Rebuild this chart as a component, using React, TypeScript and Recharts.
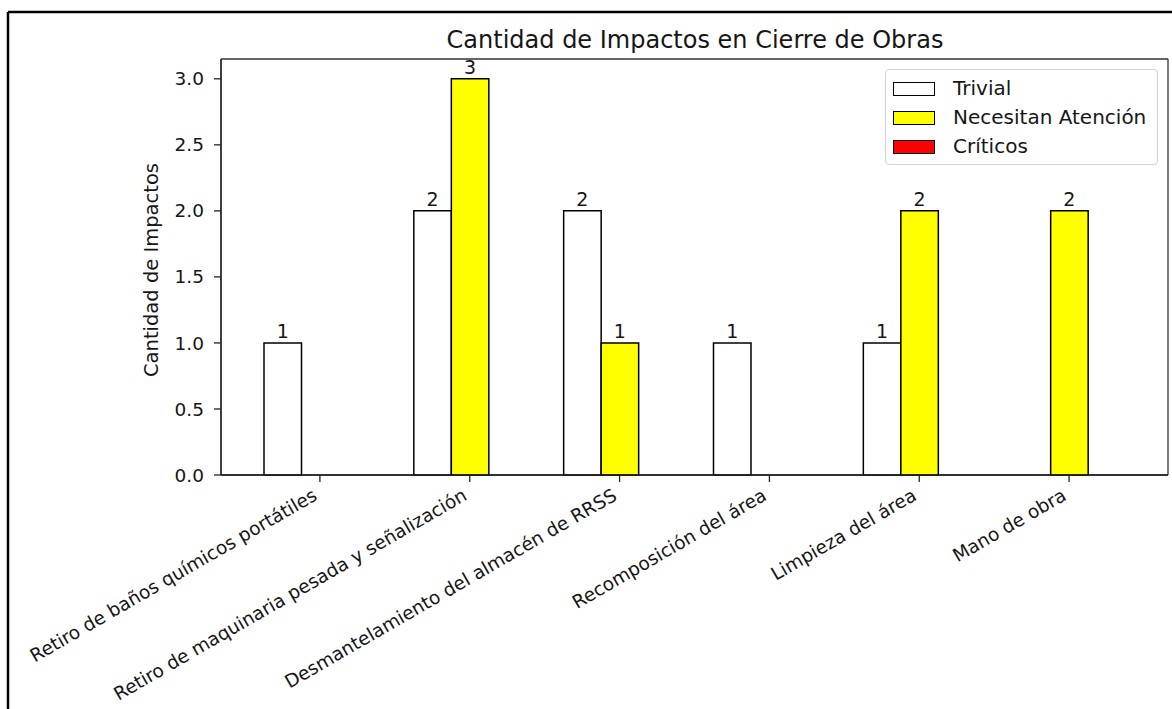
import React from 'react';
import {
  BarChart,
  Bar,
  XAxis,
  YAxis,
  Legend,
  LabelList,
  Label,
  CartesianGrid,
} from 'recharts';

const categories = [
  'Retiro de baños químicos portátiles',
  'Retiro de maquinaria pesada y señalización',
  'Desmantelamiento del almacén de RRSS',
  'Recomposición del área',
  'Limpieza del área',
  'Mano de obra',
];
const trivial = [1, 2, 2, 1, 1, 0];
const necesitan = [0, 3, 1, 0, 2, 2];
const criticos = [0, 0, 0, 0, 0, 0];
const yTicks = [0, 0.5, 1, 1.5, 2, 2.5, 3];

const series = [
  { key: 'trivial', name: 'Trivial', fill: '#ffffff' },
  { key: 'necesitan', name: 'Necesitan Atención', fill: '#ffff00' },
  { key: 'criticos', name: 'Críticos', fill: '#ff0000' },
];

const data = categories.map((name, i) => ({
  name,
  trivial: trivial[i],
  necesitan: necesitan[i],
  criticos: criticos[i],
}));

const FONT = '"DejaVu Sans", sans-serif';
const INK = '#161616';

const XTick = (props: any) => {
  const { x, y, payload } = props;
  const ax = x - 1.5;
  const ay = y + 15;
  return (
    <text
      x={ax}
      y={ay}
      textAnchor="end"
      transform={`rotate(-30, ${ax}, ${ay})`}
      fontSize={18.5}
      fontFamily={FONT}
      fill={INK}
    >
      {payload.value}
    </text>
  );
};

const YLabel = (props: any) => {
  const { viewBox } = props;
  const cx = 158;
  const cy = viewBox.y + viewBox.height / 2 + 3;
  return (
    <text
      x={cx}
      y={cy}
      textAnchor="middle"
      transform={`rotate(-90, ${cx}, ${cy})`}
      fontSize={19.5}
      fontFamily={FONT}
      fill={INK}
    >
      Cantidad de Impactos
    </text>
  );
};

const LegendBox = () => (
  <div
    style={{
      position: 'relative',
      width: 273,
      height: 96,
      boxSizing: 'border-box',
      border: '1px solid #d2d2d2',
      borderRadius: 4,
      background: 'rgba(255,255,255,0.8)',
      fontFamily: FONT,
      fontSize: 20,
      color: INK,
    }}
  >
    {series.map((s, i) => (
      <div key={s.key}>
        <div
          style={{
            position: 'absolute',
            left: 7,
            top: 12 + i * 29,
            width: 42,
            height: 14,
            boxSizing: 'border-box',
            background: s.fill,
            border: '1.5px solid #000',
          }}
        />
        <div
          style={{
            position: 'absolute',
            left: 67,
            top: 5 + i * 29,
            lineHeight: '26px',
            whiteSpace: 'nowrap',
          }}
        >
          {s.name}
        </div>
      </div>
    ))}
  </div>
);

const valueLabel = (v: any) => (v ? String(v) : '');

// frame lines around the plot area, taken from the chart's own offset
const frameRows = ({ offset }: any) => [offset.top, offset.top + offset.height];
const frameCols = ({ offset }: any) => [offset.left, offset.left + offset.width];

export default function App() {
  return (
    <div
      style={{
        position: 'absolute',
        left: 0,
        top: 0,
        width: 1172,
        height: 709,
        background: '#fff',
        overflow: 'hidden',
      }}
    >
      <BarChart
        width={1172}
        height={709}
        data={data}
        margin={{ top: 59, right: 4, bottom: 204, left: 141 }}
        barGap={0}
        barSize={37.5}
        style={{ fontFamily: FONT }}
      >
        <CartesianGrid
          stroke="#333"
          strokeWidth={1.3}
          horizontalCoordinatesGenerator={frameRows}
          verticalCoordinatesGenerator={frameCols}
        />
        <XAxis
          dataKey="name"
          height={30}
          padding={{ left: 24, right: 24 }}
          interval={0}
          tickSize={7}
          tickMargin={2}
          tick={<XTick />}
          axisLine={{ stroke: '#222', strokeWidth: 1.3 }}
          tickLine={{ stroke: '#222', strokeWidth: 1.3 }}
        />
        <YAxis
          width={80}
          type="number"
          domain={[0, 3.15]}
          ticks={yTicks}
          interval={0}
          tickSize={7}
          tickMargin={10}
          tickFormatter={(v: number) => v.toFixed(1)}
          tick={{ fontSize: 18.5, fill: INK, fontFamily: FONT }}
          axisLine={{ stroke: '#222', strokeWidth: 1.3 }}
          tickLine={{ stroke: '#222', strokeWidth: 1.3 }}
        >
          <Label content={<YLabel />} />
        </YAxis>
        <Legend
          layout="vertical"
          align="center"
          verticalAlign="middle"
          content={<LegendBox />}
          wrapperStyle={{ position: 'absolute', left: 885, top: 69, width: 273, height: 96 }}
        />
        <Bar
          dataKey="trivial"
          name="Trivial"
          fill="#ffffff"
          stroke="#000"
          strokeWidth={1.5}
          isAnimationActive={false}
        >
          <LabelList
            dataKey="trivial"
            position="top"
            offset={5}
            formatter={valueLabel}
            style={{ fontSize: 19, fill: INK, fontFamily: FONT }}
          />
        </Bar>
        <Bar
          dataKey="necesitan"
          name="Necesitan Atención"
          fill="#ffff00"
          stroke="#000"
          strokeWidth={1.5}
          isAnimationActive={false}
        >
          <LabelList
            dataKey="necesitan"
            position="top"
            offset={5}
            formatter={valueLabel}
            style={{ fontSize: 19, fill: INK, fontFamily: FONT }}
          />
        </Bar>
        <Bar
          dataKey="criticos"
          name="Críticos"
          fill="#ff0000"
          stroke="#000"
          strokeWidth={1.5}
          isAnimationActive={false}
        />
      </BarChart>
      <svg
        width={1172}
        height={709}
        style={{ position: 'absolute', left: 0, top: 0, pointerEvents: 'none' }}
      >
        <line x1={8} y1={12} x2={1172} y2={12} stroke="#000" strokeWidth={2.5} />
        <line x1={8} y1={12} x2={8} y2={709} stroke="#000" strokeWidth={2.5} />
        <text
          x={695}
          y={48}
          textAnchor="middle"
          fontSize={24}
          fontFamily={FONT}
          fill={INK}
        >
          Cantidad de Impactos en Cierre de Obras
        </text>
      </svg>
    </div>
  );
}
